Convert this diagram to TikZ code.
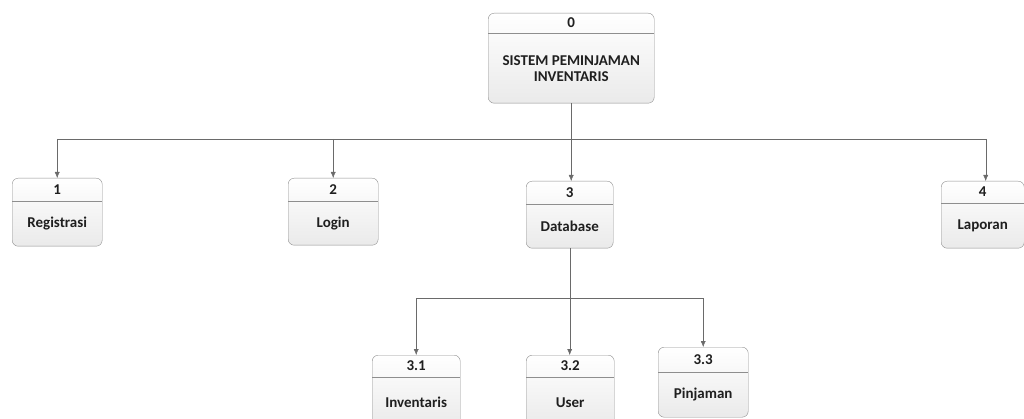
\documentclass[tikz,border=0pt]{standalone}
\usepackage{fontspec}
\setmainfont{Carlito}
\usetikzlibrary{arrows.meta,positioning}

\definecolor{edgegray}{HTML}{8E8E8E}
\definecolor{linegray}{HTML}{6A6A6A}
\definecolor{shadegray}{HTML}{EAEAEA}

\tikzset{
  proc/.style 2 args={draw=edgegray, rounded corners=6pt, top color=white,
    bottom color=shadegray, minimum width=#1, minimum height=#2,
    anchor=north west, inner sep=0pt},
  lbl/.style={font=\bfseries\fontsize{15}{16.5}\selectfont, text=black!88, inner sep=0pt},
  divider/.style={draw=edgegray},
  flow/.style={draw=linegray, -{Latex[length=6pt,width=5pt]}},
  bus/.style={draw=linegray}
}

\begin{document}
\begin{tikzpicture}[x=1pt,y=-1pt]
        \useasboundingbox (0,0) rectangle (1024,419);
        \clip (0,0) rectangle (1024,419);
        % level 0
        \node[proc={166pt}{90pt}] (b0) at (488,13) {};
        \draw[divider] ([yshift=-20pt]b0.north west) -- ([yshift=-20pt]b0.north east);
        \node[lbl] (b0-id) at ([yshift=-10pt]b0.north) {0};
        \node[lbl, align=center] (b0-txt) at ([yshift=35pt]b0.south) {SISTEM PEMINJAMAN\\INVENTARIS};
        % level 1
        \node[proc={90pt}{68pt}] (b1) at (12,178) {};
        \draw[divider] ([yshift=-23pt]b1.north west) -- ([yshift=-23pt]b1.north east);
        \node[lbl] (b1-id) at ([yshift=-11.5pt]b1.north) {1};
        \node[lbl] (b1-txt) at ([yshift=22.5pt]b1.south) {Registrasi};
        \node[proc={90pt}{67pt}] (b2) at (288,178) {};
        \draw[divider] ([yshift=-23pt]b2.north west) -- ([yshift=-23pt]b2.north east);
        \node[lbl] (b2-id) at ([yshift=-11.5pt]b2.north) {2};
        \node[lbl] (b2-txt) at ([yshift=22pt]b2.south) {Login};
        \node[proc={87pt}{67pt}] (b3) at (526,181) {};
        \draw[divider] ([yshift=-23pt]b3.north west) -- ([yshift=-23pt]b3.north east);
        \node[lbl] (b3-id) at ([yshift=-11.5pt]b3.north) {3};
        \node[lbl] (b3-txt) at ([yshift=22pt]b3.south) {Database};
        \node[proc={83pt}{67pt}] (b4) at (941,181) {};
        \draw[divider] ([yshift=-22pt]b4.north west) -- ([yshift=-22pt]b4.north east);
        \node[lbl] (b4-id) at ([yshift=-11pt]b4.north) {4};
        \node[lbl] (b4-txt) at ([yshift=22.5pt]b4.south) {Laporan};
        % level 2
        \node[proc={88pt}{72pt}] (b31) at (372,355) {};
        \draw[divider] ([yshift=-22pt]b31.north west) -- ([yshift=-22pt]b31.north east);
        \node[lbl] (b31-id) at ([yshift=-11pt]b31.north) {3.1};
        \node[lbl] (b31-txt) at ([yshift=25pt]b31.south) {Inventaris};
        \node[proc={88pt}{72pt}] (b32) at (526,355) {};
        \draw[divider] ([yshift=-22pt]b32.north west) -- ([yshift=-22pt]b32.north east);
        \node[lbl] (b32-id) at ([yshift=-11pt]b32.north) {3.2};
        \node[lbl] (b32-txt) at ([yshift=25pt]b32.south) {User};
        \node[proc={90pt}{70pt}] (b33) at (658,347) {};
        \draw[divider] ([yshift=-25pt]b33.north west) -- ([yshift=-25pt]b33.north east);
        \node[lbl] (b33-id) at ([yshift=-12.5pt]b33.north) {3.3};
        \node[lbl] (b33-txt) at ([yshift=22.5pt]b33.south) {Pinjaman};
        % connectors
        \coordinate (top-bus) at (0,139);
        \coordinate (db-bus) at (0,298);
        \draw[bus] (b1.north |- top-bus) -- ([xshift=3pt]b4.north |- top-bus);
        \draw[flow] (b0.south) -- (b0.south |- b3.north);
        \draw[flow] (b1.north |- top-bus) -- (b1.north);
        \draw[flow] (b2.north |- top-bus) -- (b2.north);
        \draw[flow] ([xshift=3pt]b4.north |- top-bus) -- ([xshift=3pt]b4.north);
        \draw[bus] (b31.north |- db-bus) -- (b33.north |- db-bus);
        \draw[flow] (b3.south) -- (b3.south |- b32.north);
        \draw[flow] (b31.north |- db-bus) -- (b31.north);
        \draw[flow] (b33.north |- db-bus) -- (b33.north);
      \end{tikzpicture}
\end{document}
